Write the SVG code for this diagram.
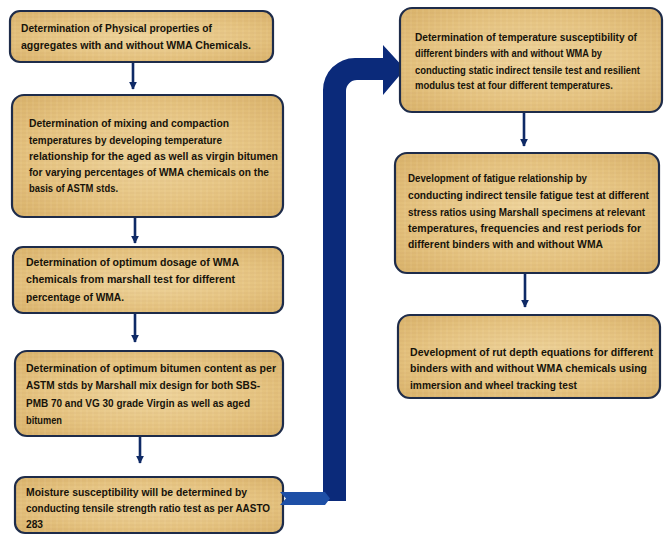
<svg xmlns="http://www.w3.org/2000/svg" width="664" height="535" viewBox="0 0 664 535">
<defs>
<radialGradient id="parch" cx="50%" cy="50%" r="70%">
<stop offset="0" stop-color="#efd59d"/>
<stop offset="0.6" stop-color="#e5c380"/>
<stop offset="1" stop-color="#d9b26a"/>
</radialGradient>
<pattern id="grain" width="6" height="4" patternUnits="userSpaceOnUse">
<rect width="6" height="4" fill="none"/>
<line x1="0" y1="1" x2="6" y2="1" stroke="#b8894a" stroke-opacity="0.12" stroke-width="1"/>
<line x1="3" y1="0" x2="3" y2="4" stroke="#fff3d0" stroke-opacity="0.12" stroke-width="1"/>
</pattern>
<marker id="ah" viewBox="0 0 10 10" refX="9" refY="5" markerWidth="3" markerHeight="3" orient="auto" markerUnits="strokeWidth">
<path d="M0,0 L10,5 L0,10 z" fill="#0f2a66"/>
</marker>
</defs>
<style>
.box{fill:url(#parch);stroke:#1e2c4a;stroke-width:2.2}
.gr{fill:url(#grain);stroke:none}
.t{font-family:"Liberation Sans",Arial,sans-serif;font-weight:bold;font-size:11px;fill:#17130a}
.c{stroke:#0f2a66;stroke-width:2.6;fill:none;marker-end:url(#ah)}
</style>
<rect width="664" height="535" fill="#ffffff"/>

<g id="connectors">
<line class="c" x1="133" y1="62" x2="133" y2="89"/>
<line class="c" x1="135" y1="217" x2="135" y2="243"/>
<line class="c" x1="135" y1="313" x2="135" y2="342"/>
<line class="c" x1="140" y1="436" x2="140" y2="463"/>
<line class="c" x1="524" y1="112" x2="524" y2="146"/>
<line class="c" x1="525" y1="273" x2="525" y2="307"/>
<path d="M323,501 L323,90 A32,32 0 0 1 355,58 L383,58 L383,45 L405,69 L383,95 L383,80 L357,80 A11,11 0 0 0 346,91 L346,501 Z" fill="#0b2a7a"/>
</g>

<g id="n1">
<rect class="box" x="10" y="11" width="263" height="51" rx="10"/>
<rect class="gr" x="11" y="12" width="261" height="49" rx="9"/>
<text class="t" x="21" y="32" textLength="191" lengthAdjust="spacingAndGlyphs">Determination of Physical properties of</text>
<text class="t" x="21" y="49" textLength="230" lengthAdjust="spacingAndGlyphs">aggregates  with and without WMA Chemicals.</text>
</g>

<g id="n2">
<rect class="box" x="12" y="95" width="271" height="122" rx="12"/>
<rect class="gr" x="13" y="96" width="269" height="120" rx="11"/>
<text class="t" x="29" y="127" textLength="200" lengthAdjust="spacingAndGlyphs">Determination of mixing and compaction</text>
<text class="t" x="29" y="144" textLength="193" lengthAdjust="spacingAndGlyphs">temperatures by developing temperature</text>
<text class="t" x="29" y="160" textLength="249" lengthAdjust="spacingAndGlyphs">relationship for the aged as well as virgin bitumen</text>
<text class="t" x="29" y="176" textLength="240" lengthAdjust="spacingAndGlyphs">for varying percentages of WMA chemicals on the</text>
<text class="t" x="29" y="192" textLength="89" lengthAdjust="spacingAndGlyphs">basis of ASTM stds.</text>
</g>

<g id="n3">
<rect class="box" x="13" y="247" width="270" height="66" rx="10"/>
<rect class="gr" x="14" y="248" width="268" height="64" rx="9"/>
<text class="t" x="26" y="266" textLength="213" lengthAdjust="spacingAndGlyphs">Determination of optimum dosage of WMA</text>
<text class="t" x="26" y="283" textLength="209" lengthAdjust="spacingAndGlyphs">chemicals from marshall test for different</text>
<text class="t" x="26" y="301" textLength="98" lengthAdjust="spacingAndGlyphs">percentage of WMA.</text>
</g>

<g id="n4">
<rect class="box" x="15" y="351" width="268" height="85" rx="12"/>
<rect class="gr" x="16" y="352" width="266" height="83" rx="11"/>
<text class="t" x="26" y="372" textLength="250" lengthAdjust="spacingAndGlyphs">Determination of optimum bitumen content as per</text>
<text class="t" x="26" y="389" textLength="234" lengthAdjust="spacingAndGlyphs">ASTM stds by Marshall mix design  for both SBS-</text>
<text class="t" x="26" y="407" textLength="224" lengthAdjust="spacingAndGlyphs">PMB 70 and VG 30 grade Virgin as well as aged</text>
<text class="t" x="26" y="424" textLength="36" lengthAdjust="spacingAndGlyphs">bitumen</text>
</g>

<g id="n5">
<rect class="box" x="15" y="477" width="268" height="56" rx="10"/>
<rect class="gr" x="16" y="478" width="266" height="54" rx="9"/>
<text class="t" x="26" y="496" textLength="221" lengthAdjust="spacingAndGlyphs">Moisture susceptibility will be determined by</text>
<text class="t" x="26" y="512" textLength="244" lengthAdjust="spacingAndGlyphs">conducting tensile strength ratio test as per AASTO</text>
<text class="t" x="26" y="528" textLength="17" lengthAdjust="spacingAndGlyphs">283</text>
</g>

<g id="tail">
<path d="M280,492 L325,492 L330,498.5 L325,505 L280,505 L286,498.5 Z" fill="#1e4fa6"/>
</g>

<g id="n6">
<rect class="box" x="400" y="8" width="262" height="104" rx="12"/>
<rect class="gr" x="401" y="9" width="260" height="102" rx="11"/>
<text class="t" x="415" y="41" textLength="222" lengthAdjust="spacingAndGlyphs">Determination of temperature susceptibility of</text>
<text class="t" x="415" y="57" textLength="187" lengthAdjust="spacingAndGlyphs">different binders with and without WMA by</text>
<text class="t" x="415" y="74" textLength="225" lengthAdjust="spacingAndGlyphs">conducting static indirect tensile test and resilient</text>
<text class="t" x="415" y="89" textLength="198" lengthAdjust="spacingAndGlyphs">modulus test at four different temperatures.</text>
</g>

<g id="n7">
<rect class="box" x="395" y="153" width="264" height="120" rx="12"/>
<rect class="gr" x="396" y="154" width="262" height="118" rx="11"/>
<text class="t" x="408" y="182" textLength="179" lengthAdjust="spacingAndGlyphs">Development of fatigue relationship by</text>
<text class="t" x="408" y="199" textLength="241" lengthAdjust="spacingAndGlyphs">conducting indirect tensile fatigue test at different</text>
<text class="t" x="408" y="216" textLength="237" lengthAdjust="spacingAndGlyphs">stress ratios using Marshall specimens at relevant</text>
<text class="t" x="408" y="232" textLength="233" lengthAdjust="spacingAndGlyphs">temperatures, frequencies and rest periods for</text>
<text class="t" x="408" y="248" textLength="195" lengthAdjust="spacingAndGlyphs">different binders with and without WMA</text>
</g>

<g id="n8">
<rect class="box" x="398" y="315" width="262" height="83" rx="12"/>
<rect class="gr" x="399" y="316" width="260" height="81" rx="11"/>
<text class="t" x="410" y="356" textLength="243" lengthAdjust="spacingAndGlyphs">Development of rut depth equations for different</text>
<text class="t" x="410" y="372" textLength="237" lengthAdjust="spacingAndGlyphs">binders with and without WMA chemicals using</text>
<text class="t" x="410" y="389" textLength="167" lengthAdjust="spacingAndGlyphs">immersion and wheel tracking test</text>
</g>
</svg>
